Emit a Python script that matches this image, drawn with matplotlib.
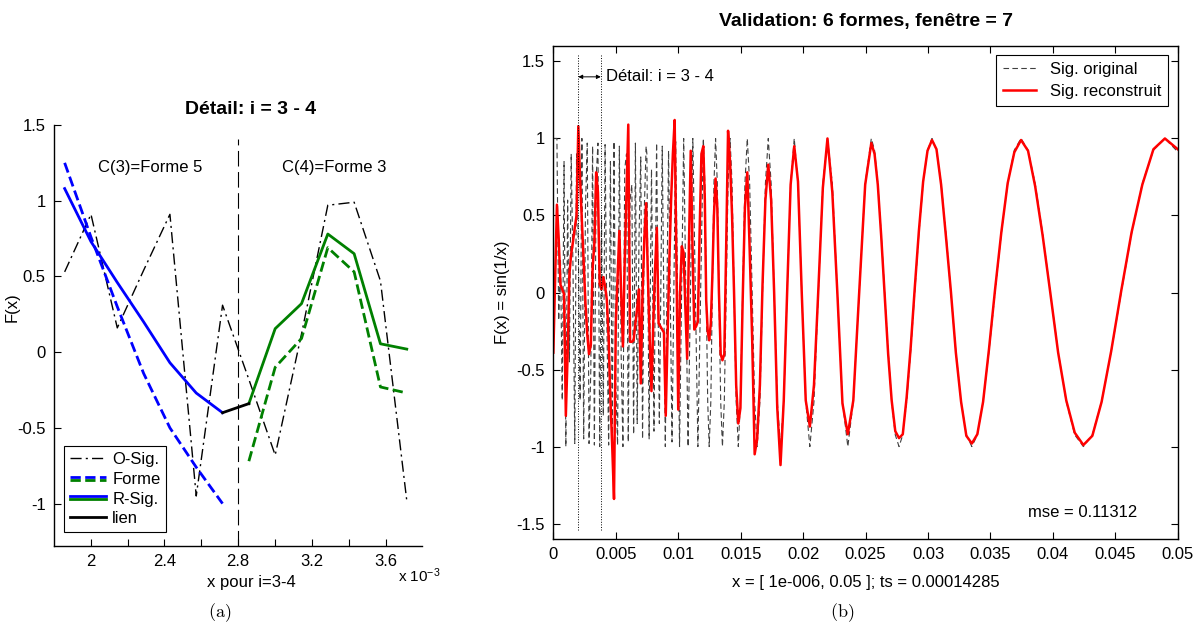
import numpy as np
import matplotlib.pyplot as plt
from matplotlib.lines import Line2D
from matplotlib.legend_handler import HandlerBase
from matplotlib.ticker import FuncFormatter

plt.rcParams['font.family'] = ['Liberation Sans', 'DejaVu Sans']
plt.rcParams['axes.unicode_minus'] = False
plt.rcParams['mathtext.default'] = 'regular'

# sampling shown in the x label of (b)
X0 = 1e-6
TS = 0.00014285

# ---- (a) detail, samples k = 13..26 ----
k_detail = np.arange(13, 27)
osig = [0.53, 0.91, 0.16, 0.54, 0.91, -0.95, 0.31, -0.18, -0.68, 0.12, 0.97, 0.99, 0.47, -0.98]
forme = [1.25, 0.76, 0.30, -0.14, -0.50, -0.76, -1.00, -0.72, -0.10, 0.09, 0.69, 0.53, -0.23, -0.27]
rsig = [1.08, 0.73, 0.46, 0.20, -0.07, -0.27, -0.40, -0.34, 0.155, 0.32, 0.78, 0.65, 0.055, 0.02]
seg_boundary = 2.8e-3

# ---- (b) reconstruction, one value per sample at the start ----
recon_fast = [-0.39, 0.10, 0.57, 0.35, 0.05, 0.02, -0.01, -0.80, -0.40, 0.12,
              0.25, 0.33, 0.42, 0.50, 1.08, 0.73, 0.46, 0.20, -0.07, -0.27,
              -0.40, -0.34, 0.155, 0.32, 0.78, 0.65, 0.055, 0.02, 0.10, 0.04,
              -0.05, -0.30, -0.70, -1.00, -1.34, -0.20, 0.10, 0.40, 0.00, -0.35,
              0.20, 0.65, 1.09, -0.32, -0.32, -0.31, -0.20, -0.10, 0.02, -0.59,
              0.00, 0.35, 0.58, 0.10, -0.30, -0.64, -0.20, 0.15, 0.42, -0.20,
              -0.22, -0.24, -0.26, -0.80, -0.30, 0.20, 0.60, 0.90, 1.12, 0.20,
              -0.76, 0.00, 0.30, 0.26, -0.10, -0.43, 0.30, 0.92, 0.30, -0.24,
              -0.22, -0.19, 0.40, 0.90]
orig_fast = [1.0, 1.0, 1.0, -0.18, 0.22, -0.7, 0.85, -1.0, 0.6, -0.45,
             0.9, 0.17, -0.98, 0.9, 0.3, -0.7, 1.0, -0.95, 0.55, 0.97,
             -0.98, -0.5, 0.95, -0.99, 0.75, 0.97, -1.0, 0.5, -0.8, 0.96,
             -0.2, -0.99, 0.85, -0.95, 0.98, -0.6, -0.99, 0.95, -0.4, -1.0,
             0.8, 0.9, -0.97, 0.6, 0.7, -0.92, 0.97, -0.85, 0.35, 0.88,
             -0.95, 0.55, 0.95]

x_mid = [0.007490, 0.007579, 0.007670, 0.007764, 0.007860, 0.007958, 0.008058, 0.008162,
         0.008268, 0.008377, 0.008488, 0.008603, 0.008721, 0.008842, 0.008966, 0.009095,
         0.009226, 0.009362, 0.009502, 0.009646, 0.009794, 0.009947, 0.010105, 0.010268,
         0.010436, 0.010610, 0.010790, 0.010976, 0.011169, 0.011368, 0.011575, 0.011789]
orig_mid = [0.9, 0.0, -0.95, 0.0, 0.8, 0.0, -0.9, 0.0, 0.97, 0.0, -0.85, 0.0, 0.95, 0.0, -1.0, 0.0,
            0.92, 0.0, -0.97, 0.0, 0.98, 0.0, -1.0, 0.0, 1.0, 0.0, -1.0, 0.0, 1.0, 0.0, -1.0, 0.0]

x_slow = [0.01201, 0.01213, 0.01224, 0.01236, 0.01248, 0.01261, 0.01273, 0.01286, 0.01299, 0.01313,
          0.01326, 0.01340, 0.01354, 0.01369, 0.01384, 0.01399, 0.01415, 0.01431, 0.01447, 0.01464,
          0.01481, 0.01498, 0.01516, 0.01534, 0.01553, 0.01572, 0.01592, 0.01612, 0.01632, 0.01654,
          0.01675, 0.01698, 0.01721, 0.01744, 0.01768, 0.01793, 0.01819, 0.01845, 0.01872, 0.01900,
          0.01929, 0.01959, 0.01989, 0.02021, 0.02054, 0.02087, 0.02122, 0.02158, 0.02195, 0.02234,
          0.02274, 0.02315, 0.02358, 0.02402, 0.02449, 0.02497, 0.02546,
          0.02572, 0.02598, 0.02625, 0.02653, 0.02681, 0.02709, 0.02738, 0.02768, 0.02798, 0.02829,
          0.02861, 0.02894, 0.02927, 0.02961, 0.02996, 0.03032, 0.03068, 0.03105, 0.03144, 0.03183,
          0.03223, 0.03265, 0.03307, 0.03351, 0.03395, 0.03441, 0.03488, 0.03537, 0.03587, 0.03638,
          0.03691, 0.03745, 0.03801, 0.03858, 0.03918, 0.03979, 0.04042, 0.04107, 0.04175, 0.04244,
          0.04316, 0.04390, 0.04467, 0.04547, 0.04630, 0.04716, 0.04805, 0.04897, 0.05000]
orig_slow = [1.0, 0.707, 0.0, -0.707, -1.0, -0.707, 0.0, 0.707,
             1.0, 0.707, 0.0, -0.707, -1.0, -0.707, 0.0, 0.707,
             1.0, 0.707, 0.0, -0.707, -1.0, -0.707, 0.0, 0.707,
             1.0, 0.707, 0.0, -0.707, -1.0, -0.707, 0.0, 0.707,
             1.0, 0.707, 0.0, -0.707, -1.0, -0.707, 0.0, 0.707,
             1.0, 0.707, 0.0, -0.707, -1.0, -0.707, 0.0, 0.707,
             1.0, 0.707, 0.0, -0.707, -1.0, -0.707, 0.0, 0.707,
             1.0,
             0.924, 0.707, 0.383, 0.0, -0.383, -0.707, -0.924, -1.0,
             -0.924, -0.707, -0.383, 0.0, 0.383, 0.707, 0.924, 1.0,
             0.924, 0.707, 0.383, 0.0, -0.383, -0.707, -0.924, -1.0,
             -0.924, -0.707, -0.383, 0.0, 0.383, 0.707, 0.924, 1.0,
             0.924, 0.707, 0.383, 0.0, -0.383, -0.707, -0.924, -1.0,
             -0.924, -0.707, -0.383, 0.0, 0.383, 0.707, 0.924, 1.0,
             0.913]
recon_slow = [0.95, 0.60, -0.05, -0.25, -0.31, -0.20, 0.10, 0.50, 0.74, 0.55,
              0.00, -0.40, -0.44, -0.40, 0.30, 1.05, 0.85, 0.50, 0.00, -0.60,
              -0.85, -0.75, -0.05, 0.55, 0.78, 0.28, -0.30, -1.05, -0.95, -0.60,
              0.05, 0.60, 0.83, 0.60, 0.00, -0.75, -1.12, -0.70, 0.00, 0.70,
              0.95, 0.72, 0.00, -0.70, -0.87, -0.60, 0.02, 0.68, 1.00, 0.65,
              0.00, -0.72, -0.92, -0.70, 0.00, 0.70, 0.97,
              0.90, 0.70, 0.37, -0.02, -0.40, -0.70, -0.90, -0.945, -0.92, -0.68,
              -0.36, 0.03, 0.40, 0.72, 0.92, 0.99, 0.93, 0.70, 0.36, 0.01,
              -0.39, -0.71, -0.93, -0.98, -0.92, -0.71, -0.37, 0.02, 0.39, 0.71,
              0.91, 0.99, 0.92, 0.69, 0.37, 0.00, -0.39, -0.70, -0.91, -0.99,
              -0.93, -0.71, -0.38, 0.01, 0.39, 0.70, 0.93, 1.00, 0.93]

detail_start, detail_end = 0.002, 0.0038
mse_text = 'mse = 0.11312'

BLUE = '#0000ff'
GREEN = '#008000'


class StackedLines(HandlerBase):
    # two legend lines drawn just above / below each other
    def create_artists(self, legend, orig_handle, xdescent, ydescent,
                       width, height, fontsize, trans):
        arts = []
        for i, h in enumerate(orig_handle):
            y = height / 2 - ydescent + (1.1 if i == 0 else -1.1)
            ln = Line2D([-xdescent, width - xdescent], [y, y], color=h.get_color(),
                        linestyle=h.get_linestyle(), linewidth=h.get_linewidth(),
                        transform=trans)
            arts.append(ln)
        return arts


fig = plt.figure(figsize=(11.99, 6.28), dpi=100)

# ---------------- (a) ----------------
ax1 = fig.add_axes([0.0450, 0.1306, 0.3073, 0.6704])
x_left = X0 + TS * k_detail
ax1.plot(x_left, osig, color='k', lw=1, ls=(0, (8, 3, 1.5, 3)))
ax1.plot(x_left[:7], forme[:7], color=BLUE, lw=2, ls='--')
ax1.plot(x_left[7:], forme[7:], color=GREEN, lw=2, ls='--')
ax1.plot(x_left[:7], rsig[:7], color=BLUE, lw=2)
ax1.plot(x_left[7:], rsig[7:], color=GREEN, lw=2)
ax1.plot(x_left[6:8], rsig[6:8], color='k', lw=2)
ax1.axvline(seg_boundary, ymin=0, ymax=(1.41 + 1.28) / 2.78, color='k', lw=0.8,
            ls=(0, (14, 5)))
ax1.text(2.32e-3, 1.22, 'C(3)=Forme 5', ha='center', va='center', fontsize=12)
ax1.text(3.32e-3, 1.22, 'C(4)=Forme 3', ha='center', va='center', fontsize=12)

ax1.set_xlim(1.8e-3, 3.8e-3)
ax1.set_ylim(-1.28, 1.5)
ax1.set_xticks(np.arange(2.0e-3, 3.65e-3, 0.2e-3))
ax1.set_xticklabels(['2', '', '2.4', '', '2.8', '', '3.2', '', '3.6'])
ax1.set_yticks([-1, -0.5, 0, 0.5, 1, 1.5])
ax1.yaxis.set_major_formatter(FuncFormatter(lambda v, p: '%g' % v))
ax1.tick_params(direction='in', length=5, labelsize=12, pad=6)
for s in ['top', 'right']:
    ax1.spines[s].set_visible(False)
ax1.set_xlabel('x pour i=3-4', fontsize=12)
ax1.xaxis.set_label_coords(0.537, -0.069)
ax1.set_ylabel('F(x)', fontsize=12)
ax1.yaxis.set_label_coords(-0.092, 0.568)
ax1.text(0.534, 1.036, 'Détail: i = 3 - 4', transform=ax1.transAxes, ha='center',
         va='center', fontsize=14, fontweight='bold')
fig.text(398 / 1199, 1 - 576 / 628, r'x 10$^{-3}$', ha='left', va='center', fontsize=11)

h_o = Line2D([], [], color='k', lw=1, ls=(0, (8, 3, 1.5, 3)))
h_f = (Line2D([], [], color=BLUE, lw=2, ls='--'), Line2D([], [], color=GREEN, lw=2, ls='--'))
h_r = (Line2D([], [], color=BLUE, lw=2), Line2D([], [], color=GREEN, lw=2))
h_l = Line2D([], [], color='k', lw=2)
leg1 = ax1.legend([h_o, h_f, h_r, h_l], ['O-Sig.', 'Forme', 'R-Sig.', 'lien'],
                  handler_map={tuple: StackedLines()}, loc='lower left',
                  bbox_to_anchor=(0.027, 0.033), borderaxespad=0, fontsize=12,
                  fancybox=False, edgecolor='k', framealpha=1, handlelength=2.2,
                  handletextpad=0.35, labelspacing=0.28, borderpad=0.35)
leg1.get_frame().set_linewidth(0.8)

# ---------------- (b) ----------------
ax2 = fig.add_axes([0.4615, 0.1417, 0.5208, 0.7850])
x_fast = X0 + TS * np.arange(len(recon_fast))
orig_x = np.concatenate([x_fast[:len(orig_fast)], x_mid, x_slow])
orig_y = np.concatenate([orig_fast, orig_mid, orig_slow])
recon_x = np.concatenate([x_fast, x_slow])
recon_y = np.concatenate([recon_fast, recon_slow])

ax2.plot(orig_x, orig_y, color='0.25', lw=0.8, ls=(0, (5, 3)), label='Sig. original')
ax2.plot(recon_x, recon_y, color='r', lw=1.8, label='Sig. reconstruit')

ax2.vlines([detail_start, detail_end], -1.54, 1.54, colors='k', lw=0.7, linestyles=':')
ax2.annotate('', xy=(detail_start, 1.40), xytext=(detail_end, 1.40),
             arrowprops=dict(arrowstyle='<|-|>', color='k', lw=0.7,
                             mutation_scale=6, shrinkA=0, shrinkB=0))
ax2.text(detail_end + 0.0004, 1.40, 'Détail: i = 3 - 4', ha='left', va='center', fontsize=12)
ax2.text(0.0424, -1.43, mse_text, ha='center', va='center', fontsize=12)

ax2.set_xlim(0, 0.05)
ax2.set_ylim(-1.6, 1.6)
ax2.set_xticks(np.arange(0, 0.0501, 0.005))
ax2.set_yticks(np.arange(-1.5, 1.51, 0.5))
fmt = FuncFormatter(lambda v, p: '%g' % round(v, 6))
ax2.xaxis.set_major_formatter(fmt)
ax2.yaxis.set_major_formatter(fmt)
ax2.tick_params(direction='in', length=5, labelsize=12, pad=6, top=True, right=True)
for s in ax2.spines.values():
    s.set_linewidth(1.0)
ax2.set_xlabel('x = [ 1e-006, 0.05 ]; ts = 0.00014285', fontsize=12)
ax2.xaxis.set_label_coords(0.5, -0.073)
ax2.set_ylabel('F(x) = sin(1/x)', fontsize=12)
ax2.yaxis.set_label_coords(-0.069, 0.5)
ax2.text(0.5, 1.049, 'Validation: 6 formes, fenêtre = 7', transform=ax2.transAxes,
         ha='center', va='center', fontsize=14, fontweight='bold')
leg2 = ax2.legend(loc='upper right', bbox_to_anchor=(0.984, 0.982), borderaxespad=0,
                  fontsize=12, fancybox=False, edgecolor='k', framealpha=1,
                  handlelength=2.0, labelspacing=0.45, borderpad=0.4)
leg2.get_frame().set_linewidth(0.8)

for s in ax1.spines.values():
    s.set_linewidth(1.0)

fig.text(220 / 1199, 1 - 613 / 628, r'$\mathrm{(a)}$', ha='center', va='center',
         fontsize=13, math_fontfamily='cm')
fig.text(842 / 1199, 1 - 613 / 628, r'$\mathrm{(b)}$', ha='center', va='center',
         fontsize=13, math_fontfamily='cm')

fig.savefig('out.png', dpi=100)
